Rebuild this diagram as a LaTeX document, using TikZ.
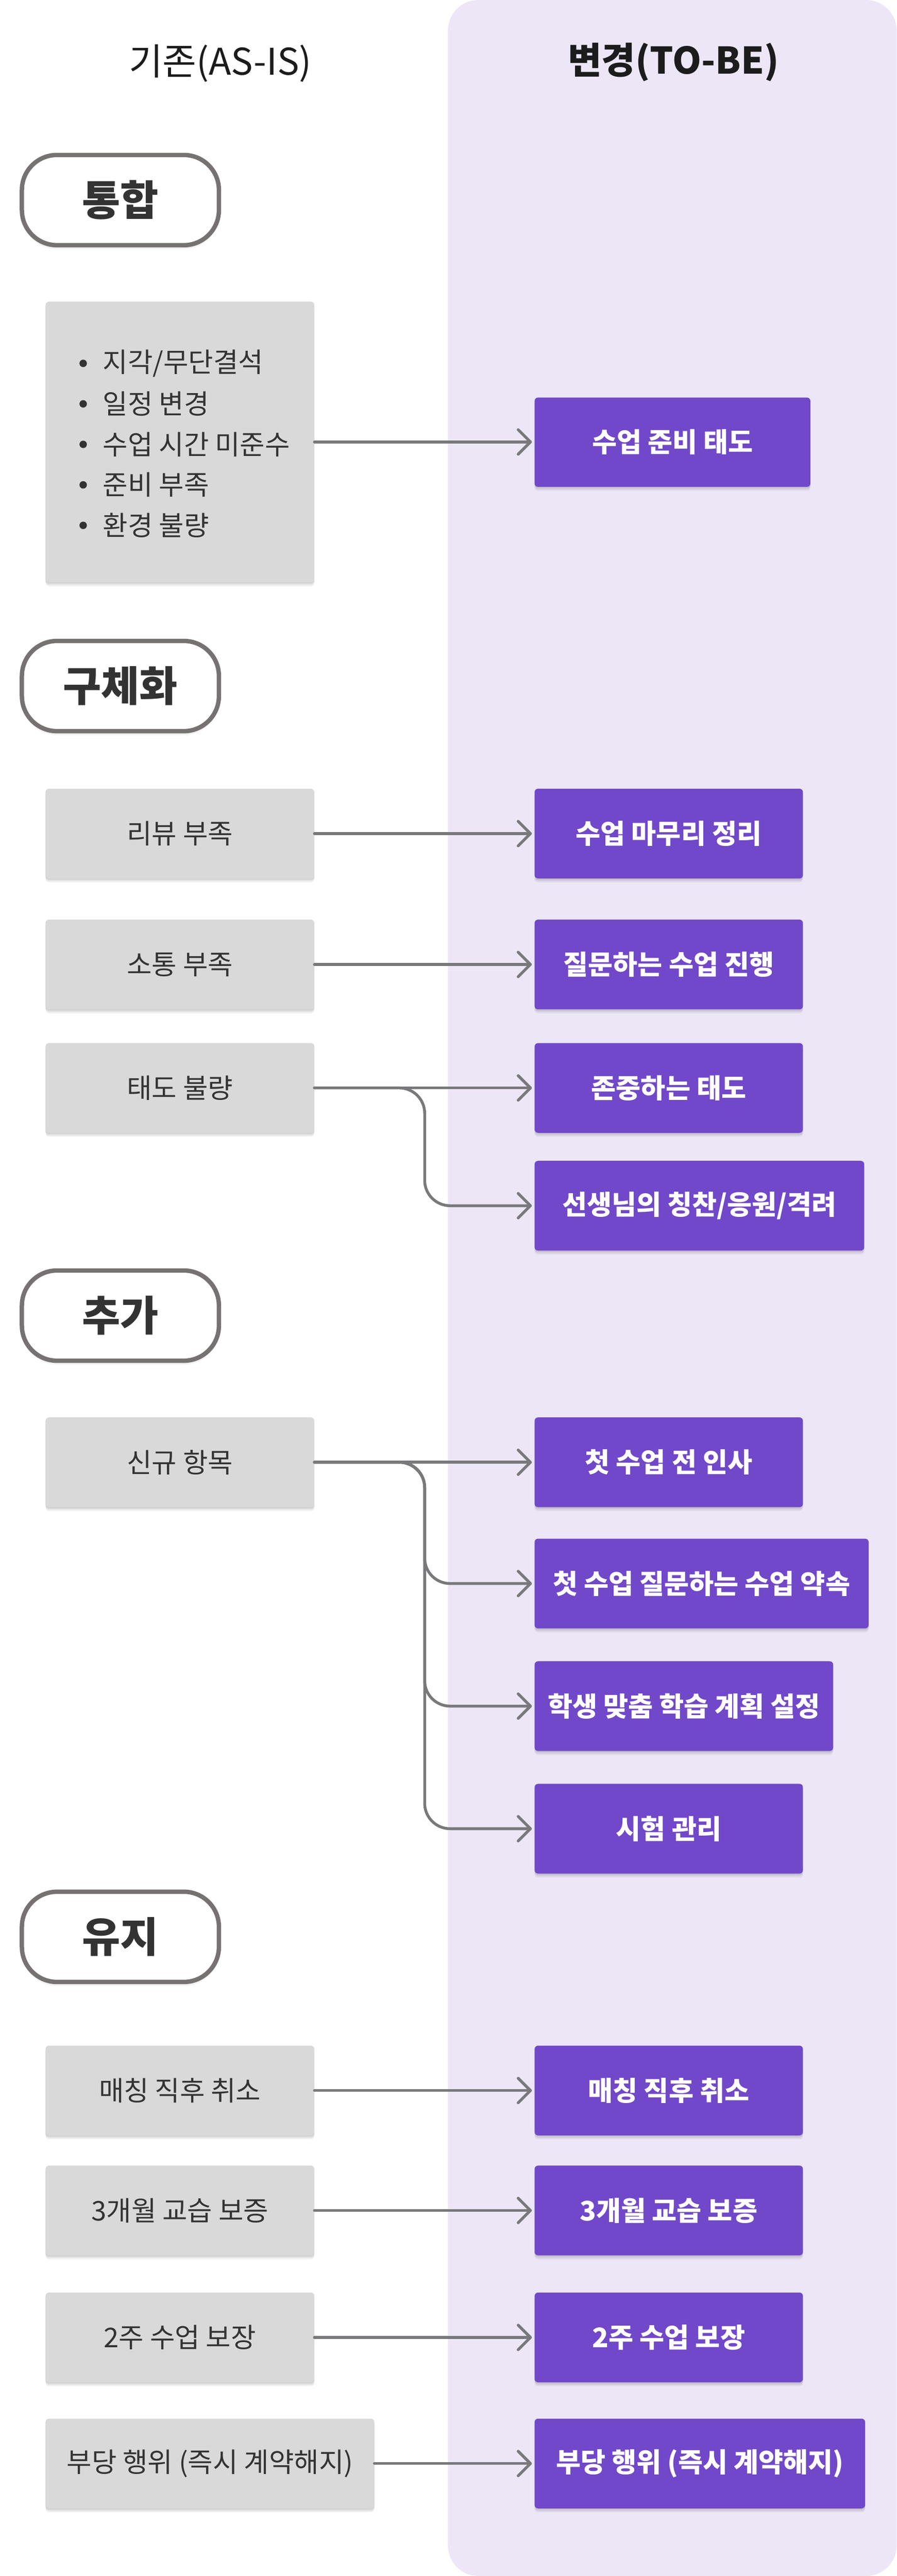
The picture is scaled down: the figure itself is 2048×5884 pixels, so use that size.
\documentclass[tikz,border=0pt]{standalone}
\usepackage{fontspec}
\setmainfont{Noto Sans CJK KR}
\usetikzlibrary{arrows.meta,shadows,calc}
\definecolor{panelbg}{RGB}{236,230,247}
\definecolor{purplebox}{RGB}{112,72,201}
\definecolor{graybox}{RGB}{217,217,217}
\definecolor{txtdark}{RGB}{51,51,51}
\definecolor{titlecol}{RGB}{28,28,28}
\definecolor{conncol}{RGB}{121,121,123}
\definecolor{labelborder}{RGB}{118,114,114}
\tikzset{
  softshadow/.style={
    general shadow={fill=black,opacity=.07,shadow yshift=-3pt},
    general shadow={fill=black,opacity=.06,shadow yshift=-6pt},
    general shadow={fill=black,opacity=.05,shadow yshift=-9pt}},
  asis/.style={rectangle, rounded corners=8pt, fill=graybox, softshadow,
    minimum height=205pt, minimum width=614pt, inner sep=0pt, text=txtdark,
    font=\fontsize{62pt}{74pt}\selectfont},
  tobe/.style={rectangle, rounded corners=8pt, fill=purplebox, softshadow,
    minimum height=205pt, minimum width=613pt, inner sep=0pt, text=white,
    font=\fontsize{61.5pt}{74pt}\selectfont\bfseries},
  sectlabel/.style={rectangle, rounded corners=80pt, draw=labelborder, line width=10pt,
    fill=white, softshadow, minimum width=450pt, minimum height=206pt, inner sep=0pt,
    text=txtdark, font=\fontsize{95pt}{110pt}\selectfont\bfseries},
  conn/.style={draw=conncol, line width=6.5pt, line cap=round, line join=round,
    -{Straight Barb[length=28pt,width=56pt,round]}, shorten >=6pt},
  coltitle/.style={text=titlecol, inner sep=0pt, font=\fontsize{84pt}{100pt}\selectfont},
  bulletdot/.style={circle, fill=txtdark, minimum size=17pt, inner sep=0pt},
  listtext/.style={text=txtdark, inner sep=0pt, anchor=west, font=\fontsize{62pt}{74pt}\selectfont},
}
\begin{document}
\begin{tikzpicture}[x=1pt,y=-1pt]
\useasboundingbox (0,0) rectangle (2048,5884);
\fill[white] (0,0) rectangle (2048,5884);
\fill[panelbg, rounded corners=70pt] (1023,0) rectangle (2048,5884);
\coordinate (bx) at (970,0);

% column titles
\node[coltitle] (asistitle) at (503,145) {기존(AS-IS)};
\node[coltitle, font=\fontsize{84pt}{100pt}\selectfont\bfseries] (tobetitle) at (1538,142) {변경(TO-BE)};

% section labels
\node[sectlabel] (l1) at (275,457) {통합};
\node[sectlabel] (l2) at (275,1567) {구체화};
\node[sectlabel] (l3) at (275,3005) {추가};
\node[sectlabel] (l4) at (275,4424) {유지};

% 통합
\node[asis, minimum height=641pt] (g1) at (411,1009.5) {};
\node[bulletdot] (d1) at (190,830) {};
\node[bulletdot] (d2) at (190,922.5) {};
\node[bulletdot] (d3) at (190,1015) {};
\node[bulletdot] (d4) at (190,1107.5) {};
\node[bulletdot] (d5) at (190,1200) {};
\node[listtext] (t1) at (235,830) {지각/무단결석};
\node[listtext] (t2) at (235,922.5) {일정 변경};
\node[listtext] (t3) at (235,1015) {수업 시간 미준수};
\node[listtext] (t4) at (235,1107.5) {준비 부족};
\node[listtext] (t5) at (235,1200) {환경 불량};
\node[tobe, minimum width=630pt, minimum height=204pt] (p1) at (1536,1010) {수업 준비 태도};

% 구체화
\node[asis] (g2) at (411,1904) {리뷰 부족};
\node[asis] (g3) at (411,2203) {소통 부족};
\node[asis] (g4) at (411,2485) {태도 불량};
\node[tobe] (p2) at (1527.5,1904) {수업 마무리 정리};
\node[tobe] (p3) at (1527.5,2203) {질문하는 수업 진행};
\node[tobe] (p4) at (1527.5,2485) {존중하는 태도};
\node[tobe, minimum width=753pt] (p5) at (1597.5,2754) {선생님의 칭찬/응원/격려};

% 추가
\node[asis] (g5) at (411,3340) {신규 항목};
\node[tobe] (p6) at (1527.5,3340) {첫 수업 전 인사};
\node[tobe, minimum width=763pt] (p7) at (1602.5,3617) {첫 수업 질문하는 수업 약속};
\node[tobe, minimum width=682pt] (p8) at (1562,3897) {학생 맞춤 학습 계획 설정};
\node[tobe] (p9) at (1527.5,4177) {시험 관리};

% 유지
\node[asis] (g6) at (411,4775) {매칭 직후 취소};
\node[asis] (g7) at (411,5049) {3개월 교습 보증};
\node[asis] (g8) at (411,5339) {2주 수업 보장};
\node[asis, minimum width=751pt] (g9) at (479.5,5627) {부당 행위 (즉시 계약해지)};
\node[tobe] (p10) at (1527.5,4775) {매칭 직후 취소};
\node[tobe] (p11) at (1527.5,5049) {3개월 교습 보증};
\node[tobe] (p12) at (1527.5,5339) {2주 수업 보장};
\node[tobe, minimum width=755pt] (p13) at (1598.5,5627) {부당 행위 (즉시 계약해지)};

% connectors
\draw[conn] (g1.east) -- (g1.east -| p1.west);
\draw[conn] (g2.east) -- (p2.west);
\draw[conn] (g3.east) -- (p3.west);
\draw[conn] (g4.east) -- (p4.west);
\draw[conn, rounded corners=58pt] (g4.east) -- (g4.east -| bx) |- (p5.west);
\draw[conn] (g5.east) -- (p6.west);
\draw[conn, rounded corners=58pt] (g5.east) -- (g5.east -| bx) |- (p7.west);
\draw[conn, rounded corners=58pt] (g5.east) -- (g5.east -| bx) |- (p8.west);
\draw[conn, rounded corners=58pt] (g5.east) -- (g5.east -| bx) |- (p9.west);
\draw[conn] (g6.east) -- (p10.west);
\draw[conn] (g7.east) -- (p11.west);
\draw[conn] (g8.east) -- (p12.west);
\draw[conn] (g9.east) -- (p13.west);
\end{tikzpicture}
\end{document}
